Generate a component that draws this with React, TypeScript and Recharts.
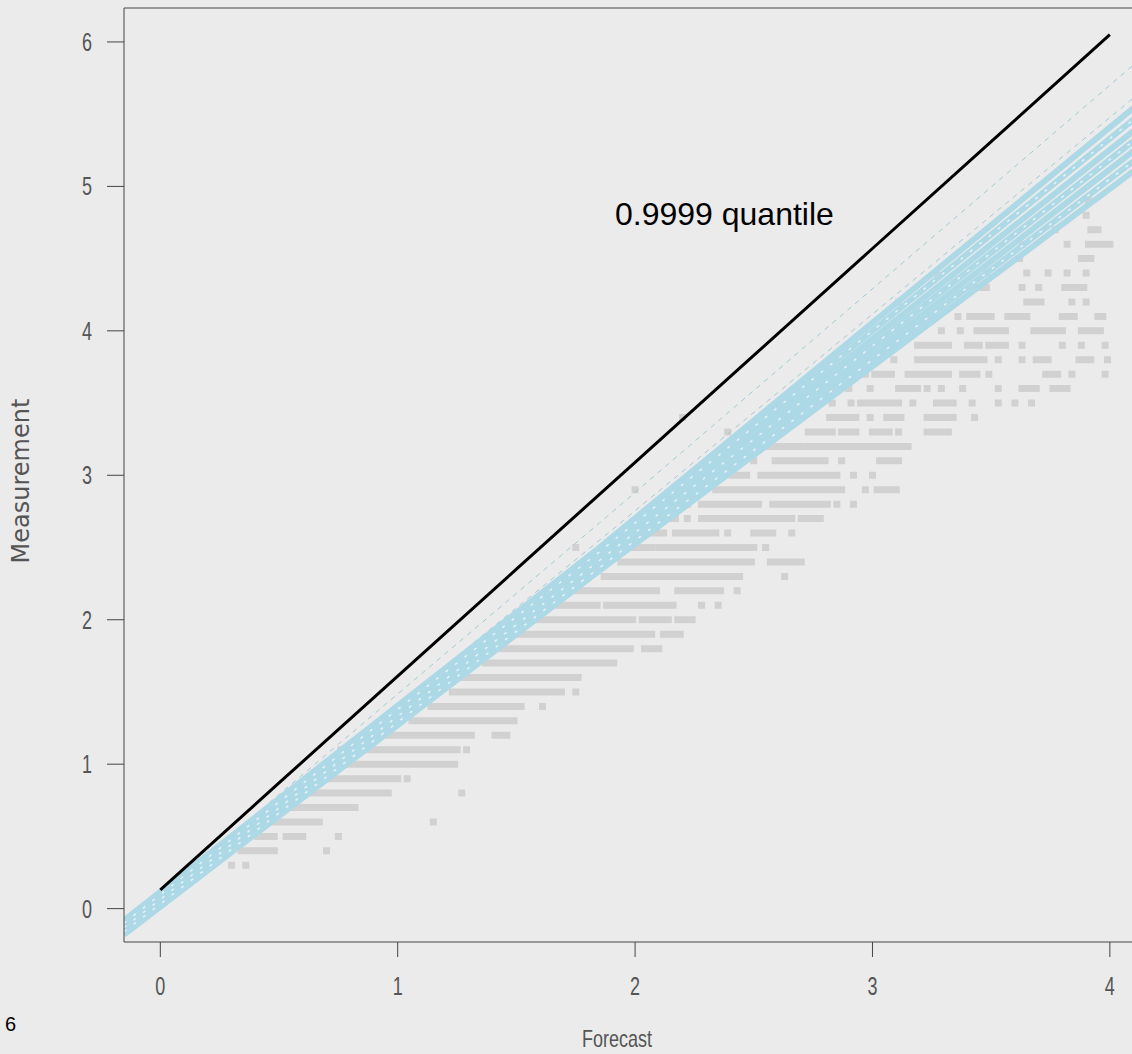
import { ComposedChart, Line, ReferenceLine, XAxis, YAxis } from "recharts";

// measurement levels (rows of the grey observation cloud)
const measurementLevels = [
  0.3, 0.4, 0.5, 0.6, 0.7, 0.8, 0.9, 1.0, 1.1, 1.2, 1.3, 1.4, 1.5, 1.6, 1.7, 1.8, 1.9, 2.0,
  2.1, 2.2, 2.3, 2.4, 2.5, 2.6, 2.7, 2.8, 2.9, 3.0, 3.1, 3.2, 3.3, 3.4, 3.5, 3.6, 3.7, 3.8,
  3.9, 4.0, 4.1, 4.2, 4.3, 4.4, 4.5, 4.6, 4.7, 4.8, 4.9,
];

// forecast runs of observations at each level: [from, to] or a single [value]
const forecastRuns: number[][][] = [
  [[0.3], [0.36]],
  [[0.34, 0.48], [0.7]],
  [[0.41, 0.48], [0.53, 0.6], [0.75]],
  [[0.45, 0.67], [1.15]],
  [[0.49, 0.82]],
  [[0.58, 0.96], [1.27]],
  [[0.63, 1.0], [1.04]],
  [[0.72, 1.09], [1.11, 1.17], [1.19, 1.24]],
  [[0.76, 1.25], [1.29]],
  [[0.9, 1.31], [1.41, 1.46]],
  [[1.06, 1.49]],
  [[1.14, 1.52], [1.61]],
  [[1.23, 1.69], [1.75]],
  [[1.27, 1.76]],
  [[1.37, 1.88], [1.91]],
  [[1.39, 1.98], [2.04, 2.1]],
  [[1.51, 2.01], [2.03, 2.07], [2.12, 2.19]],
  [[1.59, 1.81], [1.83, 1.99], [2.03, 2.14], [2.18, 2.24]],
  [[1.67, 1.84], [1.88, 2.16], [2.28], [2.35]],
  [[1.75, 2.09], [2.18, 2.36], [2.43]],
  [[1.87, 2.44], [2.63]],
  [[1.94, 2.47], [2.49], [2.57, 2.7]],
  [[1.75], [1.99, 2.07], [2.1, 2.5], [2.55]],
  [[2.02, 2.12], [2.17, 2.34], [2.39], [2.5, 2.58], [2.66]],
  [[2.1, 2.17], [2.22], [2.28, 2.66], [2.7, 2.78]],
  [[2.19, 2.22], [2.28, 2.52], [2.58, 2.81], [2.85], [2.92]],
  [[2.0], [2.34, 2.87], [2.97], [3.02, 3.1]],
  [[2.41, 2.47], [2.53, 2.85], [2.92], [3.0]],
  [[2.5], [2.59, 2.8], [2.87], [3.03, 3.11]],
  [[2.52, 2.7], [2.73, 2.83], [2.85, 3.15]],
  [[2.39], [2.61], [2.73, 2.83], [2.87, 2.93], [3.0, 3.07], [3.11], [3.23, 3.29], [3.32]],
  [[2.2], [2.82, 2.93], [2.99], [3.06, 3.12], [3.23, 3.34], [3.43]],
  [[2.83], [2.91], [2.95, 3.11], [3.17], [3.27, 3.34], [3.42], [3.53], [3.6], [3.67]],
  [[2.9], [2.99], [3.11, 3.19], [3.23], [3.29], [3.38], [3.53], [3.63, 3.69], [3.76, 3.82]],
  [[2.92], [2.97], [3.01, 3.08], [3.15, 3.32], [3.38, 3.44], [3.49], [3.73, 3.78], [3.84], [3.98]],
  [[2.97], [3.09], [3.19, 3.47], [3.53], [3.63], [3.69, 3.74], [3.87, 3.92], [3.99]],
  [[3.07, 3.11], [3.19, 3.32], [3.4, 3.45], [3.49, 3.56], [3.63], [3.8], [3.88], [3.98]],
  [[3.29], [3.37], [3.44, 3.56], [3.68, 3.8], [3.88, 3.96]],
  [[3.21, 3.26], [3.36], [3.41, 3.5], [3.57, 3.65], [3.8, 3.85], [3.95, 3.97]],
  [[3.11], [3.65, 3.71], [3.84], [3.9]],
  [[3.42, 3.48], [3.63], [3.7], [3.81, 3.89]],
  [[3.27], [3.48], [3.65], [3.74], [3.82], [3.9]],
  [[3.62], [3.88, 3.92]],
  [[3.63], [3.82], [3.91, 4.0]],
  [[3.77], [3.92, 3.95]],
  [[3.9]],
  [[3.91]],
];

// 0.9999 quantile line
const quantileX = [0, 0.5, 1, 1.5, 2, 2.5, 3, 3.5, 4];
const quantileY = [0.13, 0.87, 1.61, 2.35, 3.09, 3.83, 4.57, 5.31, 6.05];

// light blue forecast lines, read at three forecast positions
const bandX = [-0.153, 1.85, 4.127];
const denseBand = [
  [-0.08, 2.5, 5.58],
  [-0.1, 2.47, 5.5],
  [-0.11, 2.44, 5.42],
  [-0.13, 2.41, 5.35],
  [-0.14, 2.38, 5.28],
  [-0.16, 2.36, 5.21],
  [-0.18, 2.34, 5.14],
];
const thinBand = [
  [-0.12, 2.67, 5.88],
  [-0.13, 2.55, 5.65],
];

const xTicks = [0, 1, 2, 3, 4];
const yTicks = [0, 1, 2, 3, 4, 5, 6];
const xDomain: [number, number] = [-0.153, 4.127];
const yDomain: [number, number] = [-0.231, 6.235];

const narrowFont = "'Liberation Sans', Arial, sans-serif";

const greyRows = measurementLevels.map((y, i) =>
  forecastRuns[i].flatMap((run) => {
    const a = run[0];
    const b = run[1] ?? run[0];
    return [
      { x: a, y },
      { x: b, y },
      { x: b, y: null },
    ];
  }),
);
const quantileData = quantileX.map((x, i) => ({ x, y: quantileY[i] }));
const toBand = (vals: number[]) => bandX.map((x, i) => ({ x, y: vals[i] }));

// R-style condensed tick labels
function NarrowTick(props: any) {
  const { x, y, payload, vertical } = props;
  return (
    <g transform={`translate(${x},${y}) scale(0.72,1)`}>
      <text
        x={0}
        y={0}
        textAnchor={vertical ? "end" : "middle"}
        dy={vertical ? "0.36em" : "0.71em"}
        fill="#555"
        fontSize={25}
        fontFamily={narrowFont}
      >
        {payload.value}
      </text>
    </g>
  );
}

export default function App() {
  return (
    <div
      style={{
        position: "absolute",
        left: 0,
        top: 0,
        width: 1132,
        height: 1054,
        overflow: "hidden",
        background: "#ebebeb",
      }}
    >
      <ComposedChart width={1140} height={1054} margin={{ top: 8, right: 0, bottom: 0, left: 0 }}>
        <XAxis
          type="number"
          dataKey="x"
          domain={xDomain}
          ticks={xTicks}
          interval={0}
          allowDataOverflow
          height={112}
          tickSize={15}
          tickMargin={20}
          stroke="#444"
          tick={<NarrowTick />}
        />
        <YAxis
          type="number"
          dataKey="y"
          domain={yDomain}
          ticks={yTicks}
          interval={0}
          allowDataOverflow
          width={124}
          tickSize={17}
          tickMargin={15}
          stroke="#444"
          tick={<NarrowTick vertical />}
        />
        <ReferenceLine y={yDomain[1]} stroke="#444" ifOverflow="visible" />
        {greyRows.map((row, i) => (
          <Line
            key={`g${i}`}
            data={row}
            dataKey="y"
            type="linear"
            stroke="#d1d1d1"
            strokeWidth={7}
            strokeLinecap="square"
            dot={false}
            activeDot={false}
            legendType="none"
            isAnimationActive={false}
          />
        ))}
        {thinBand.map((vals, i) => (
          <Line
            key={`t${i}`}
            data={toBand(vals)}
            dataKey="y"
            type="linear"
            stroke="#9fcbd4"
            strokeWidth={1}
            strokeDasharray="5 5"
            dot={false}
            activeDot={false}
            legendType="none"
            isAnimationActive={false}
          />
        ))}
        {denseBand.map((vals, i) => (
          <Line
            key={`b${i}`}
            data={toBand(vals)}
            dataKey="y"
            type="linear"
            stroke="#add8e6"
            strokeWidth={6}
            dot={false}
            activeDot={false}
            legendType="none"
            isAnimationActive={false}
          />
        ))}
        {denseBand
          .filter((_, i) => i % 2 === 1)
          .map((vals, i) => (
            <Line
              key={`f${i}`}
              data={toBand(vals)}
              dataKey="y"
              type="linear"
              stroke="#e4f3f7"
              strokeWidth={1.5}
              strokeDasharray="3 9"
              dot={false}
              activeDot={false}
              legendType="none"
              isAnimationActive={false}
            />
          ))}
        <Line
          data={quantileData}
          dataKey="y"
          type="linear"
          stroke="#000"
          strokeWidth={3}
          dot={false}
          activeDot={false}
          legendType="none"
          isAnimationActive={false}
        />
      </ComposedChart>
      <div
        style={{
          position: "absolute",
          left: 615,
          top: 196,
          fontFamily: "'Liberation Sans', Arial, sans-serif",
          fontSize: 32,
          color: "#000",
          whiteSpace: "nowrap",
        }}
      >
        0.9999 quantile
      </div>
      <div
        style={{
          position: "absolute",
          left: 517,
          width: 200,
          top: 1029,
          lineHeight: "20px",
          textAlign: "center",
          fontFamily: narrowFont,
          fontSize: 24,
          color: "#555",
          transform: "scaleX(0.75)",
        }}
      >
        Forecast
      </div>
      <div
        style={{
          position: "absolute",
          left: 21,
          top: 481,
          transform: "translate(-50%, -50%) rotate(-90deg)",
          fontFamily: "'DejaVu Sans', sans-serif",
          fontSize: 24,
          lineHeight: "24px",
          color: "#555",
          whiteSpace: "nowrap",
        }}
      >
        Measurement
      </div>
      <div
        style={{
          position: "absolute",
          left: 5,
          top: 1013,
          fontFamily: "'Liberation Sans', Arial, sans-serif",
          fontSize: 20,
          color: "#000",
        }}
      >
        6
      </div>
    </div>
  );
}
